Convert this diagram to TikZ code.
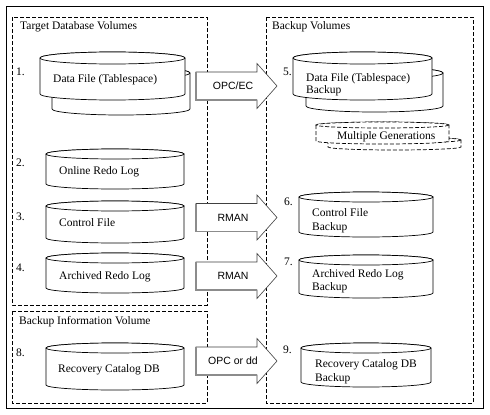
\documentclass[tikz,border=0pt]{standalone}
\usepackage{fontspec}
\setmainfont{Liberation Serif}
\setsansfont{Liberation Sans}
\tikzset{
  lbl/.style={font=\fontsize{11.5}{13}\selectfont, inner sep=0pt, anchor=west},
  arrtxt/.style={font=\sffamily\fontsize{10.5}{12}\selectfont, inner sep=0pt},
  framebox/.style={draw, line width=0.9pt},
  volbox/.style={draw, line width=0.7pt, dash pattern=on 4pt off 2pt},
  cylsolid/.style={draw, fill=white, line width=0.7pt},
  cyldash/.style={draw, fill=white, line width=0.7pt, dash pattern=on 4pt off 2pt},
  arrline/.style={draw=black!75, fill=white, line width=0.6pt},
  arrshade/.style={draw=black!45, line width=1.4pt}
}
% #1 style, #2 x1, #3 x2, #4 ytop, #5 ybottom, #6 ry
\newcommand\mycyl[6]{%
  \pgfmathsetmacro\cylrx{(#3-#2)/2}%
  \pgfmathsetmacro\cylcx{(#3+#2)/2}%
  \path[#1] (#2,#4+#6) -- (#2,#5-#6)
    arc[start angle=180,end angle=0,x radius=\cylrx,y radius=#6]
    -- (#3,#4+#6)
    arc[start angle=0,end angle=-180,x radius=\cylrx,y radius=#6] -- cycle;
  \path[#1] (\cylcx,#4+#6) ellipse[x radius=\cylrx,y radius=#6];
}
% #1 name, #2 y centre, #3 text
\newcommand\myarrow[3]{%
  \path[arrline] (196,#2-14) -- (257,#2-14) -- (257,#2-22.5) -- (277,#2)
    -- (257,#2+22.5) -- (257,#2+14) -- (196,#2+14) -- cycle;
  \draw[arrshade] (196,#2-14) -- (196,#2+14) -- (257,#2+14);
  \node[arrtxt] (#1) at (233,#2) {#3};
}
\begin{document}
\begin{tikzpicture}[x=1pt,y=-1pt]
\useasboundingbox (0,0) rectangle (490,415);
\path[fill=white] (0,0) rectangle (490,415);
\draw[framebox] (6,6) rectangle (483,408);
\draw[volbox] (12,17) rectangle (207,305);
\draw[volbox] (12,311) rectangle (207,403);
\draw[volbox] (266,17) rectangle (473,403);

\node[lbl] (t1) at (20,27) {Target Database Volumes};
\node[lbl] (t2) at (19,322) {Backup Information Volume};
\node[lbl] (t3) at (272,27) {Backup Volumes};

% left cylinders
\mycyl{cylsolid}{52}{190}{67}{115}{6}
\mycyl{cylsolid}{40}{185}{52}{100}{6}
\mycyl{cylsolid}{46}{184}{149}{189}{5}
\mycyl{cylsolid}{46}{184}{201}{243}{5}
\mycyl{cylsolid}{46}{184}{253}{293}{5}
\mycyl{cylsolid}{46}{184}{343}{390}{5}

% right cylinders
\mycyl{cylsolid}{306}{443}{67}{112}{6}
\mycyl{cylsolid}{293}{432}{52}{100}{6}
\mycyl{cyldash}{328}{461}{137}{150}{3}
\mycyl{cyldash}{316}{449}{122}{144}{3}
\mycyl{cylsolid}{299}{433}{192}{237}{5}
\mycyl{cylsolid}{299}{433}{255}{298}{5}
\mycyl{cylsolid}{301}{431}{343}{387}{5}

% numbers
\node[lbl] (n1) at (16,72) {1.};
\node[lbl] (n2) at (16,163) {2.};
\node[lbl] (n3) at (16,217) {3.};
\node[lbl] (n4) at (16,268) {4.};
\node[lbl] (n8) at (16,353) {8.};
\node[lbl] (n5) at (283,72) {5.};
\node[lbl] (n6) at (284,202) {6.};
\node[lbl] (n7) at (284,262) {7.};
\node[lbl] (n9) at (283,350) {9.};

% left texts
\node[lbl] (df) at (53,80) {Data File (Tablespace)};
\node[lbl] (orl) at (59,172) {Online Redo Log};
\node[lbl] (cf) at (59,223) {Control File};
\node[lbl] (arl) at (59,277) {Archived Redo Log};
\node[lbl] (rc) at (58,370) {Recovery Catalog DB};

% right texts
\node[lbl] (dfb) at (306,79) {Data File (Tablespace)};
\node[lbl] (dfb2) at (306,91) {Backup};
\node[lbl] (mg) at (337,137) {Multiple Generations};
\node[lbl] (cfb) at (312,213) {Control File};
\node[lbl] (cfb2) at (312,228) {Backup};
\node[lbl] (arlb) at (312,275) {Archived Redo Log};
\node[lbl] (arlb2) at (312,288) {Backup};
\node[lbl] (rcb) at (315,365) {Recovery Catalog DB};
\node[lbl] (rcb2) at (315,379) {Backup};

% block arrows
\myarrow{a1}{86}{OPC/EC}
\myarrow{a2}{217.5}{RMAN}
\myarrow{a3}{276}{RMAN}
\myarrow{a4}{361}{OPC or dd}
\end{tikzpicture}
\end{document}
